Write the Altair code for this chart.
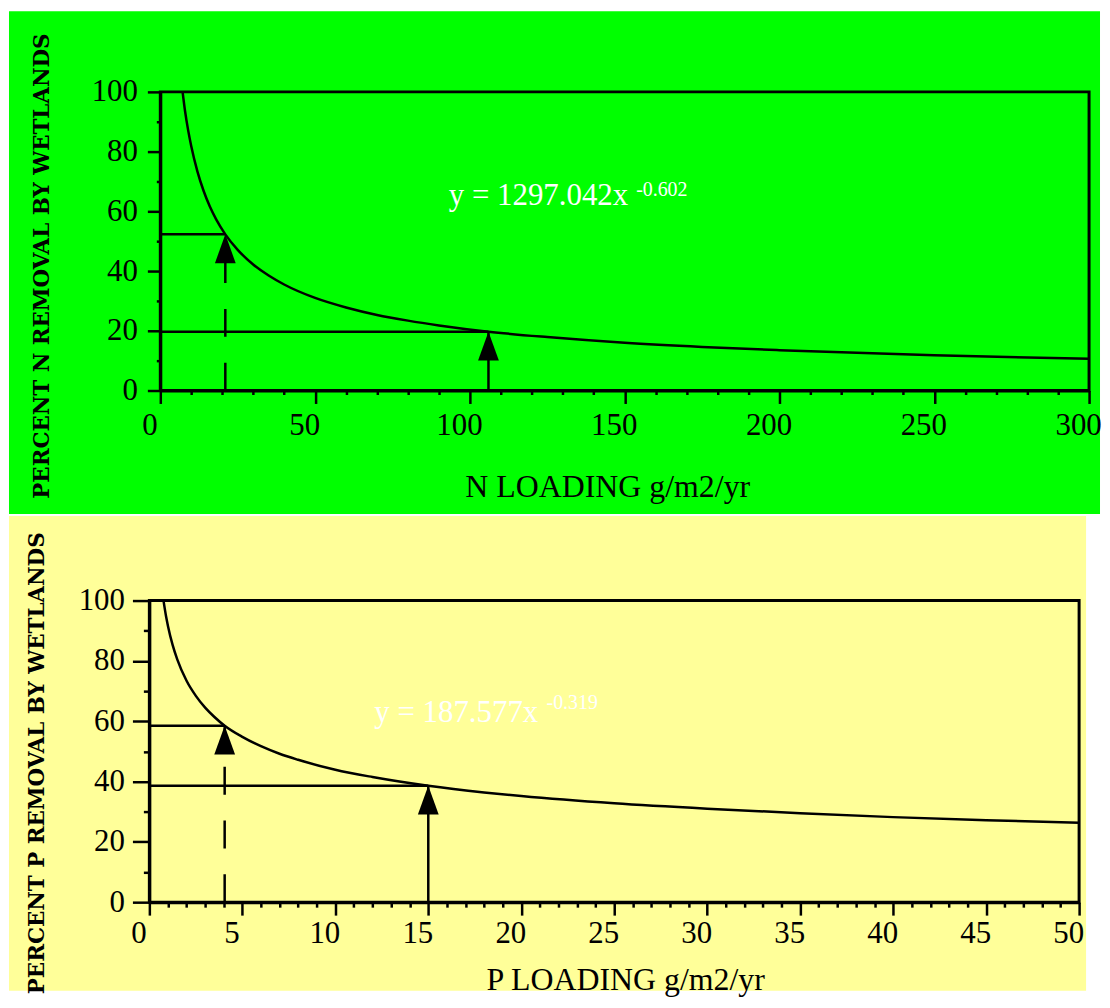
import altair as alt
import pandas as pd

# ---------- N panel ----------
n_x = [7.2, 8, 9, 10, 12, 14, 16, 18, 21, 25, 30, 35, 40, 50, 60, 70, 80, 90,
       106, 125, 150, 175, 200, 250, 300]
n_y = [100, 93.5, 87.1, 81.8, 73.3, 66.8, 61.6, 57.4, 52.3, 47.1, 42.2, 38.5,
       35.5, 31.0, 27.8, 25.3, 23.4, 21.8, 19.7, 17.9, 16.0, 14.6, 13.5, 11.8, 10.6]
n_mark_x = [21, 106]
n_mark_y = [52.3, 19.7]
n_mark_kind = ["dashed", "solid"]
n_xticks = list(range(0, 301, 10))
n_yticks = list(range(0, 101, 10))
n_eq = ["y = 1297.042x", "-0.602"]
n_eq_x = [93.2, 153.7]
n_eq_y = [62.0, 65.3]

# ---------- P panel ----------
p_x = [0.76, 0.9, 1.0, 1.25, 1.5, 2, 2.5, 3, 3.5, 4.05, 5, 6, 7, 8, 10, 12, 15,
       18, 20, 25, 30, 35, 40, 45, 50]
p_y = [100, 94.7, 91.6, 85.3, 80.5, 73.4, 68.4, 64.5, 61.4, 58.5, 54.8, 51.7,
       49.2, 47.2, 43.9, 41.5, 38.6, 36.4, 35.2, 32.8, 31.0, 29.5, 28.2, 27.2, 26.3]
p_mark_x = [4.05, 15.0]
p_mark_y = [58.5, 38.6]
p_mark_kind = ["dashed", "solid"]
p_xticks = list(range(0, 51, 1))
p_yticks = list(range(0, 101, 10))
p_eq = ["y = 187.577x", "-0.319"]
p_eq_x = [12.1, 21.36]
p_eq_y = [59.7, 64.0]

SERIF = "Liberation Serif"
YFONT = "DejaVu Serif"
TRI = "M0,-1L0.72,1L-0.72,1Z"
LW = 2.5


def make_axis(values, major, major_len, minor_len, pad, title, tx, ty, yaxis, loff=0, off=0):
    return alt.Axis(
        values=values, title=title, grid=False, offset=off,
        domainColor="black", domainWidth=3,
        tickColor="black", tickWidth=2.5, tickSize=major_len,
        tickDash={"condition": {"test": f"datum.value % {major} !== 0",
                                "value": [minor_len, 60]},
                  "value": [60, 0]},
        labelExpr=f"datum.value % {major} === 0 ? datum.label : ''",
        labelFont=SERIF, labelFontSize=31, labelColor="black",
        labelPadding=pad, labelOffset=loff, labelOverlap=False, labelFlush=False,
        titleFont=YFONT if yaxis else SERIF,
        titleFontSize=21.5 if yaxis else 32,
        titleFontWeight="bold" if yaxis else "normal",
        titleColor="black", titleX=tx, titleY=ty,
        titleAlign="center", titleBaseline="alphabetic",
        zindex=1,
    )


def panel(cx, cy, mx, my, mk, xticks, yticks, xmajor, xmaj_len, xmin_len, xpad, xloff,
          ymaj_len, ymin_len, ypad, xtitle, ytitle, xtx, xty, ytx, yty,
          eq, eqx, eqy, bg, w, h, box, left):
    xs = alt.Scale(domain=[0, xticks[-1]], nice=False, zero=False, range=[-left, w])
    ys = alt.Scale(domain=[0, 100], nice=False, zero=False)
    curve = pd.DataFrame({"x": cx, "y": cy})
    marks = pd.DataFrame({"x": mx, "y": my, "kind": mk,
                          "x0": [0] * len(mx), "y0": [0] * len(mx)})
    ann = pd.DataFrame({"x": eqx, "y": eqy, "t": eq})
    one = pd.DataFrame({"k": [0]})

    xax = make_axis(xticks, xmajor, xmaj_len, xmin_len, xpad, xtitle, xtx, xty, False, xloff)
    yax = make_axis(yticks, 20, ymaj_len, ymin_len, ypad, ytitle, ytx, yty, True, 0, left)

    def X(f):
        return alt.X(f, type="quantitative", scale=xs, axis=xax)

    def Y(f):
        return alt.Y(f, type="quantitative", scale=ys, axis=yax)

    background = alt.Chart(one).mark_rect(fill=bg).encode(
        x=alt.value(box[0]), x2=alt.value(box[1]), y=alt.value(box[2]), y2=alt.value(box[3]))
    frame = alt.Chart(one).mark_rect(fillOpacity=0, stroke="black", strokeWidth=3).encode(
        x=alt.value(-left), x2=alt.value(w), y=alt.value(0), y2=alt.value(h))
    line = alt.Chart(curve).mark_line(color="black", strokeWidth=LW, interpolate="monotone").encode(
        x=X("x"), y=Y("y"))
    hrule = alt.Chart(marks).mark_rule(color="black", strokeWidth=LW).encode(
        x=X("x0"), x2="x:Q", y=Y("y"))
    vsolid = alt.Chart(marks).transform_filter("datum.kind == 'solid'").mark_rule(
        color="black", strokeWidth=LW).encode(x=X("x"), y=Y("y0"), y2="y:Q")
    vdash = alt.Chart(marks).transform_filter("datum.kind == 'dashed'").mark_rule(
        color="black", strokeWidth=LW, strokeDash=[28, 26]).encode(x=X("x"), y=Y("y0"), y2="y:Q")
    arrows = alt.Chart(marks).mark_point(shape=TRI, size=841, filled=True, color="black",
                                         opacity=1, yOffset=14.5, strokeWidth=0).encode(
        x=X("x"), y=Y("y"))
    main_t = alt.Chart(ann.iloc[[0]]).mark_text(align="left", baseline="alphabetic", font=SERIF,
                                                 fontSize=31, color="white").encode(
        x=X("x"), y=Y("y"), text="t:N")
    sup_t = alt.Chart(ann.iloc[[1]]).mark_text(align="left", baseline="alphabetic", font=SERIF,
                                                fontSize=20, color="white").encode(
        x=X("x"), y=Y("y"), text="t:N")
    return alt.layer(background, frame, line, hrule, vsolid, vdash, arrows, main_t, sup_t).properties(
        width=w, height=h)


top = panel(n_x, n_y, n_mark_x, n_mark_y, n_mark_kind, n_xticks, n_yticks, 50, 13, 4, 7.5, -11,
            13, 4, 10, "N LOADING g/m2/yr", "PERCENT N REMOVAL BY WETLANDS",
            449, 106, -112, 174.5, n_eq, n_eq_x, n_eq_y, "#00ff00", 933, 300,
            (-152, 944, -81, 424), 0)
bottom = panel(p_x, p_y, p_mark_x, p_mark_y, p_mark_kind, p_xticks, p_yticks, 5, 13, 5, 3.5, -11,
               17, 6, 8, "P LOADING g/m2/yr", "PERCENT P REMOVAL BY WETLANDS",
               467, 88, -106, 163, p_eq, p_eq_x, p_eq_y, "#ffff99", 923, 303,
               (-152, 930, -85, 392), 11)

chart = alt.ConcatChart(concat=[top, bottom], columns=1, spacing=0, align="none").properties(
    padding=0, background="white").configure_view(stroke="transparent")

chart.save("out.html", embed_options={"renderer": "svg", "actions": False})
